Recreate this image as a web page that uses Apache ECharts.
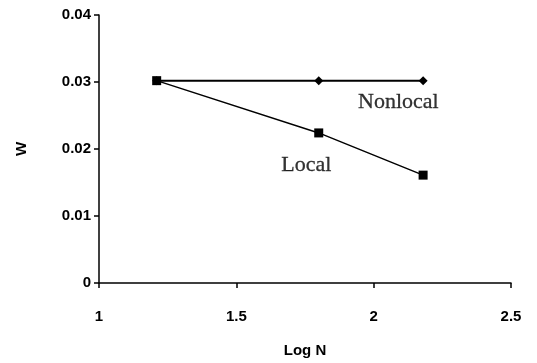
<!DOCTYPE html>
<html>
<head>
<meta charset="utf-8">
<script src="https://cdn.jsdelivr.net/npm/echarts@6/dist/echarts.min.js"></script>
<style>
  html, body { margin: 0; padding: 0; background: #fff; }
  #chart { width: 537px; height: 363px; }
</style>
</head>
<body>
<div id="chart"></div>
<script>
  // 数据
  const logN = [1.21, 1.8, 2.18]
  const nonlocalW = [0.0302, 0.0302, 0.0302]
  const localW = [0.0302, 0.0224, 0.0161]
  const xTicks = [1, 1.5, 2, 2.5]
  const yTicks = [0, 0.01, 0.02, 0.03, 0.04]
  // 曲线旁的文字 [x, y, 文字]
  const notes = [[2.09, 0.0270, 'Nonlocal'], [1.755, 0.0176, 'Local']]

  const chart = echarts.init(document.getElementById('chart'))
  const axisCommon = {
    axisLine: {show: true, lineStyle: {color: '#000', width: 1.5}},
    axisTick: {show: true, inside: false, length: 5, lineStyle: {color: '#000', width: 1.5}},
    splitLine: {show: false},
    nameTextStyle: {fontFamily: 'Liberation Sans', fontWeight: 'bold', fontSize: 15, color: '#000'}
  }

  const option = {
    animation: false,
    grid: {left: 99, right: 26, top: 15, bottom: 80, containLabel: false},
    xAxis: Object.assign({
      type: 'value',
      min: xTicks[0],
      max: xTicks[xTicks.length - 1],
      interval: 0.5,
      name: 'Log N',
      nameLocation: 'middle',
      nameGap: 60,
      axisLabel: {
        margin: 26, color: '#000', fontFamily: 'Liberation Sans', fontWeight: 'bold', fontSize: 15,
        formatter: v => String(v)
      }
    }, axisCommon),
    yAxis: Object.assign({
      type: 'value',
      min: yTicks[0],
      max: yTicks[yTicks.length - 1],
      interval: 0.01,
      name: 'W',
      nameLocation: 'middle',
      nameGap: 70,
      axisLabel: {
        margin: 8, color: '#000', fontFamily: 'Liberation Sans', fontWeight: 'bold', fontSize: 15,
        formatter: v => v === 0 ? '0' : v.toFixed(2)
      }
    }, axisCommon),
    series: [
      {
        name: 'Nonlocal',
        type: 'line',
        data: logN.map((x, i) => [x, nonlocalW[i]]),
        symbol: 'diamond',
        symbolSize: 9,
        itemStyle: {color: '#000'},
        lineStyle: {color: '#000', width: 2},
        z: 2
      },
      {
        name: 'Local',
        type: 'line',
        data: logN.map((x, i) => [x, localW[i]]),
        symbol: 'rect',
        symbolSize: 9,
        itemStyle: {color: '#000'},
        lineStyle: {color: '#000', width: 1.5},
        z: 3
      },
      {
        name: 'notes',
        type: 'scatter',
        data: notes.map(n => ({value: [n[0], n[1]], name: n[2]})),
        symbolSize: 0,
        silent: true,
        label: {
          show: true, position: 'inside', formatter: '{b}',
          fontFamily: 'Liberation Serif', fontSize: 22, color: '#000',
          textBorderColor: '#000', textBorderWidth: 0.3
        }
      }
    ]
  }
  chart.setOption(option)
</script>
</body>
</html>
